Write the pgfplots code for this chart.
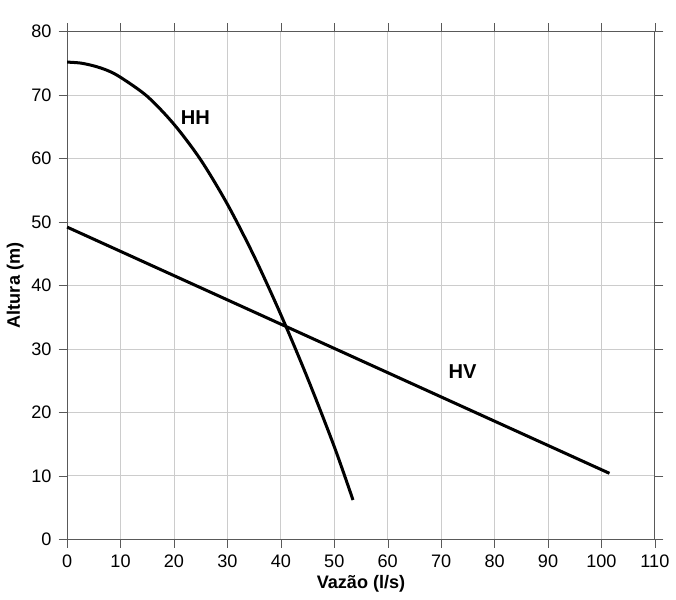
\documentclass[border=0pt]{standalone}
\usepackage{fontspec}
\setmainfont{Liberation Sans}
\usepackage{pgfplots}
\pgfplotsset{compat=1.18}
\begin{document}
\begin{tikzpicture}
\begin{axis}[
  scale only axis, width=10.28cm, height=8.88cm,
  xmin=0, xmax=110, ymin=0, ymax=80,
  xtick={0,10,...,110}, ytick={0,10,...,80},
  grid=major, grid style={gray!40, line width=0.4pt},
  axis line style={gray!70!black},
  tick style={gray!70!black},
  tick align=outside,
  clip=false,
  /pgf/number format/assume math mode=true,
  ticklabel style={font=\fontsize{9}{10}\selectfont},
  xlabel={\bfseries Vazão (l/s)}, ylabel={\bfseries Altura (m)},
  label style={font=\fontsize{9}{10}\selectfont},
  xlabel style={yshift=3pt}, ylabel style={yshift=-3pt},
]
\addplot[black, line width=1.5pt, smooth] coordinates {
(0,75.2)(2.5,75.05)(5,74.6)(7.5,73.9)(10,72.8)(15,69.8)(20,65.4)(25,59.8)(30,52.8)(35,44.6)(40,35.4)(45,25.4)(50,14.6)(53.5,6.2)};
\addplot[black, line width=1.5pt] coordinates {(0,49.2)(101.5,10.4)};
\node[font=\bfseries\fontsize{10}{12}\selectfont] at (axis cs:24,66.5) {HH};
\node[font=\bfseries\fontsize{10}{12}\selectfont] at (axis cs:74,26.5) {HV};
\path (axis cs:0,80) ++(0,0.55cm) coordinate (t);
\fill[white,opacity=0] (t) circle (0.1pt);
\end{axis}
\end{tikzpicture}
\end{document}
